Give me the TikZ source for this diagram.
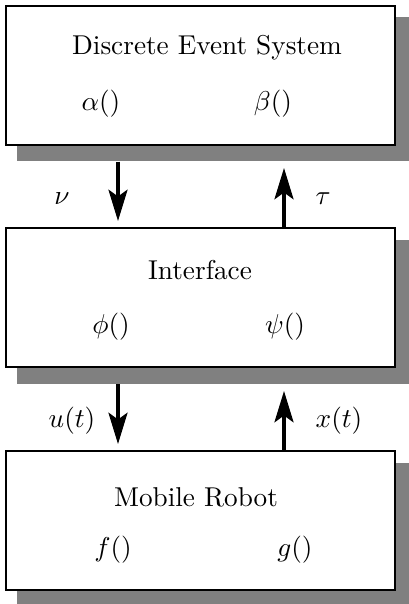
\documentclass[tikz,border=0pt]{standalone}
\usepackage{amsmath, amssymb}
\usepackage{tikz}
\usetikzlibrary{calc, arrows.meta}

\tikzset{
	block/.style = {draw, fill = white, line width = 0.4pt, minimum width = 389*0.367pt, minimum height = 139*0.367pt, inner sep = 0pt},
	blockshadow/.style = {fill = gray, minimum width = 392*0.367pt, minimum height = 144*0.367pt, inner sep = 0pt},
	flow/.style = {line width = 1.15pt, -{Stealth[length = 11.5pt, width = 7pt, inset = 2.5pt]}},
}

\begin{document}
\begin{tikzpicture}[x = 0.367pt, y = -0.367pt]
			\useasboundingbox (0,0) rectangle (409,604);
			
			% shadows first
			\node [blockshadow] (des shadow) at (213,89) {};
			\node [blockshadow] (ifc shadow) at (213,311.5) {};
			\node [blockshadow] (rob shadow) at (213,534.5) {};
			
			% the three blocks
			\node [block] (des) at (200.5,75.5) {};
			\node [block] (ifc) at (200.5,297.5) {};
			\node [block] (rob) at (200.5,520.5) {};
			
			\node (des title) at (207,48) {Discrete Event System};
			\node (alpha) at (101,104) {$\alpha()$};
			\node (beta) at (273,104) {$\beta()$};
			
			\node (ifc title) at (200,270) {Interface};
			\node (phi) at (111,327) {$\phi()$};
			\node (psi) at (285,327) {$\psi()$};
			
			\node (rob title) at (196,497) {Mobile Robot};
			\node (f) at (113,550) {$f()$};
			\node (g) at (295,550) {$g()$};
			
			% arrows between the blocks
			\coordinate (nu tip) at (118,221);
			\coordinate (tau tip) at (284,168);
			\coordinate (u tip) at (118,444);
			\coordinate (x tip) at (284,391);
			
			\draw [flow] (des shadow.south -| nu tip) -- (nu tip);
			\draw [flow] (ifc.north -| tau tip) -- (tau tip);
			\draw [flow] (ifc shadow.south -| u tip) -- (u tip);
			\draw [flow] (rob.north -| x tip) -- (x tip);
			
			\node (nu) at (62,199) {$\nu$};
			\node (tau) at (323,199) {$\tau$};
			\node (u) at (72,421) {$u(t)$};
			\node (x) at (339,421) {$x(t)$};
		\end{tikzpicture}
\end{document}
